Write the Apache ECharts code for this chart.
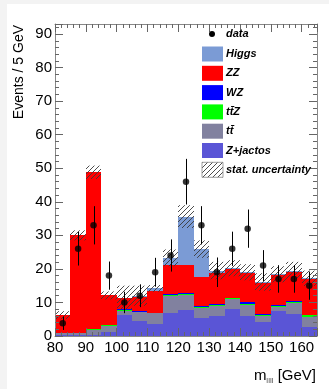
<!DOCTYPE html>
<html>
<head>
<meta charset="utf-8">
<script src="https://cdn.jsdelivr.net/npm/echarts@6/dist/echarts.min.js"></script>
<style>
    html, body { margin: 0; padding: 0; background: #f3f3f3; }
    .panel { position: absolute; left: 7px; top: 4px; width: 322px; height: 385px; background: #fff; }
    #chart { position: absolute; left: 0; top: 0; width: 329px; height: 389px; }
</style>
</head>
<body>
<div class="panel"></div>
<div id="chart"></div>
<script>
    // bins of 5 GeV, low edges
    var binLow = [80, 85, 90, 95, 100, 105, 110, 115, 120, 125, 130, 135, 140, 145, 150, 155, 160];
    var binWidth = 5;

    // backgrounds + signal, stacked from bottom to top
    var zJets = [0.3, 0.3, 0.3, 1.3, 6.3, 4.5, 3.6, 7.0, 7.8, 5.3, 6.0, 8.0, 6.0, 4.3, 7.6, 6.6, 2.8];
    var ttbar = [0.7, 0.7, 1.4, 1.7, 1.3, 2.6, 3.2, 4.9, 4.5, 3.0, 2.8, 3.0, 3.3, 1.8, 1.0, 3.2, 3.0];
    var ttZ = [0, 0, 0.3, 0.3, 0.1, 0.1, 0.1, 0.3, 0.2, 0.2, 0.3, 0.2, 0.3, 0.3, 0.4, 0.3, 0.5];
    var wz = [0, 0, 0, 0, 0.2, 0.3, 0.1, 0.2, 0.3, 0.4, 0.5, 0.2, 0.4, 0.3, 0.1, 0.3, 0.1];
    var zz = [5.2, 29, 46.8, 8.8, 3.5, 4.2, 6.4, 8.8, 8.4, 8.8, 9.3, 8.5, 8.7, 9.2, 9.1, 8.8, 10.6];
    var higgs = [0, 0, 0, 0, 0, 0.3, 0.8, 2.1, 14.4, 8.2, 0.6, 0.3, 0.3, 0.2, 0.2, 0.3, 0.2];

    // stat. uncertainty (half width) on the total
    var statUnc = [1.2, 1.5, 2.0, 1.2, 3.6, 3.0, 1.0, 2.5, 3.4, 2.6, 2.6, 2.4, 2.4, 2.6, 2.4, 2.6, 2.3];

    // observed data and errors
    var dataVal = [3.8, 26, 33, 18, 10, 12, 19, 24, 46, 33, 19, 26, 32, 21, 17, 17, 15];
    var dataErr = [2.0, 5.0, 5.7, 4.2, 3.2, 3.4, 4.3, 4.8, 6.8, 5.7, 4.4, 5.1, 5.7, 4.6, 4.1, 4.1, 4.2];

    var layers = [
        {name: 'Z+jactos', values: zJets, color: '#5a55d6'},
        {name: 'tt\u0304', values: ttbar, color: '#81819f'},
        {name: 'tt\u0304Z', values: ttZ, color: '#00ff00'},
        {name: 'WZ', values: wz, color: '#0000ff'},
        {name: 'ZZ', values: zz, color: '#ff0000'},
        {name: 'Higgs', values: higgs, color: '#7b9bd5'}
    ];

    var font = 'Liberation Sans, Arial, Helvetica, sans-serif';

    // hatch pattern for stat. uncertainty
    function hatchCanvas() {
        var c = document.createElement('canvas');
        c.width = 5;
        c.height = 5;
        var g = c.getContext('2d');
        g.strokeStyle = '#3a3a3a';
        g.lineWidth = 0.9;
        g.beginPath();
        g.moveTo(0, 5); g.lineTo(5, 0);
        g.moveTo(-1, 1); g.lineTo(1, -1);
        g.moveTo(4, 6); g.lineTo(6, 4);
        g.stroke();
        return c;
    }
    var hatch = {image: hatchCanvas(), repeat: 'repeat'};

    function binRect(params, api) {
        var a = api.coord([api.value(0), api.value(3)]);
        var b = api.coord([api.value(1), api.value(2)]);
        var x0 = Math.round(a[0]), x1 = Math.round(b[0]);
        var y0 = Math.round(a[1]), y1 = Math.round(b[1]);
        if (y1 - y0 <= 0) return null;
        return {
            type: 'rect',
            shape: {x: x0, y: y0, width: x1 - x0, height: y1 - y0},
            style: {fill: api.visual('color')}
        };
    }

    var series = [];
    var base = binLow.map(function () { return 0; });
    layers.forEach(function (layer) {
        var items = [];
        for (var i = 0; i < binLow.length; i++) {
            items.push([binLow[i], binLow[i] + binWidth, base[i], base[i] + layer.values[i]]);
            base[i] += layer.values[i];
        }
        series.push({
            type: 'custom',
            name: layer.name,
            renderItem: binRect,
            itemStyle: {color: layer.color},
            encode: {x: [0, 1], y: [2, 3]},
            data: items,
            z: 2
        });
    });

    // hatched uncertainty band
    var uncItems = [];
    for (var i = 0; i < binLow.length; i++) {
        uncItems.push([binLow[i], binLow[i] + binWidth, base[i] - statUnc[i], base[i] + statUnc[i]]);
    }
    series.push({
        type: 'custom',
        name: 'stat. uncertainty',
        renderItem: function (params, api) {
            var a = api.coord([api.value(0), api.value(3)]);
            var b = api.coord([api.value(1), api.value(2)]);
            return {
                type: 'rect',
                shape: {x: Math.round(a[0]), y: a[1], width: Math.round(b[0]) - Math.round(a[0]), height: b[1] - a[1]},
                style: {fill: hatch}
            };
        },
        encode: {x: [0, 1], y: [2, 3]},
        data: uncItems,
        z: 3
    });

    // data error bars
    var errItems = [];
    var points = [];
    for (var j = 0; j < binLow.length; j++) {
        var xc = binLow[j] + binWidth / 2;
        errItems.push([xc, dataVal[j] - dataErr[j], dataVal[j] + dataErr[j]]);
        points.push([xc, dataVal[j]]);
    }
    series.push({
        type: 'custom',
        name: 'dataErr',
        renderItem: function (params, api) {
            var lo = api.coord([api.value(0), api.value(1)]);
            var hi = api.coord([api.value(0), api.value(2)]);
            var x = Math.round(lo[0]) + 0.5;
            return {
                type: 'line',
                shape: {x1: x, y1: lo[1], x2: x, y2: hi[1]},
                style: {stroke: '#000', lineWidth: 1}
            };
        },
        encode: {x: 0, y: [1, 2]},
        data: errItems,
        z: 6
    });
    series.push({
        type: 'scatter',
        name: 'data',
        symbol: 'circle',
        symbolSize: 6.5,
        itemStyle: {color: '#000'},
        data: points,
        z: 7
    });

    // legend drawn by hand (ROOT style)
    var legendTop = 46.5, legendStep = 19.3;
    var legendFont = 'italic bold 11px ' + font;
    var graphics = [
        {type: 'circle', shape: {cx: 212, cy: 34, r: 3}, style: {fill: '#000'}, z: 10},
        {type: 'text', x: 226, y: 34, style: {text: 'data', font: legendFont, fill: '#000', verticalAlign: 'middle'}, z: 10}
    ];
    var legendRows = [layers[5], layers[4], layers[3], layers[2], layers[1], layers[0]];
    legendRows.forEach(function (row, k) {
        var y = legendTop + k * legendStep;
        graphics.push({type: 'rect', shape: {x: 202, y: y, width: 21, height: 15}, style: {fill: row.color}, z: 10});
        graphics.push({type: 'text', x: 226, y: y + 7.5, style: {text: row.name, font: legendFont, fill: '#000', verticalAlign: 'middle'}, z: 10});
    });
    var yStat = legendTop + 6 * legendStep;
    graphics.push({type: 'rect', shape: {x: 202, y: yStat, width: 21, height: 15}, style: {fill: hatch, stroke: '#888', lineWidth: 0.8}, z: 10});
    graphics.push({type: 'text', x: 226, y: yStat + 7.5, style: {text: 'stat. uncertainty', font: legendFont, fill: '#000', verticalAlign: 'middle'}, z: 10});

    // axis titles
    graphics.push({
        type: 'text', x: 19, y: 25, rotation: Math.PI / 2,
        style: {text: 'Events / 5 GeV', font: '14px ' + font, fill: '#000', align: 'right', verticalAlign: 'middle'}
    });
    graphics.push({
        type: 'text', x: 316, y: 376,
        style: {
            text: '{m|m}{s|llll}{m| [GeV]}',
            align: 'right', verticalAlign: 'middle',
            rich: {
                m: {font: '15px ' + font, fill: '#000', lineHeight: 18},
                s: {font: '8px ' + font, fill: '#555', lineHeight: 18, padding: [10, 0, 0, 0], verticalAlign: 'bottom'}
            }
        }
    });

    var tickColor = '#666';
    function axisCommon() {
        return {
            axisLine: {show: true, onZero: false, lineStyle: {color: '#888', width: 1}},
            axisTick: {show: true, inside: true, length: 8, lineStyle: {color: tickColor}},
            minorTick: {show: true, splitNumber: 5, length: 4, lineStyle: {color: tickColor}},
            splitLine: {show: false},
            z: 8
        };
    }

    var xBottom = Object.assign(axisCommon(), {
        type: 'value', position: 'bottom', min: 80, max: 165, interval: 10,
        axisLabel: {
            show: true, fontSize: 15, fontFamily: font, color: '#000', margin: 4,
            formatter: function (v) { return v % 10 === 0 ? String(v) : ''; }
        }
    });
    var xTop = Object.assign(axisCommon(), {
        type: 'value', position: 'top', min: 80, max: 165, interval: 10,
        axisLabel: {show: false}
    });
    var yLeft = Object.assign(axisCommon(), {
        type: 'value', position: 'left', min: 0, max: 93, interval: 10,
        axisLabel: {
            show: true, fontSize: 15, fontFamily: font, color: '#000', margin: 3,
            formatter: function (v) { return v % 10 === 0 ? String(v) : ''; }
        }
    });
    var yRight = Object.assign(axisCommon(), {
        type: 'value', position: 'right', min: 0, max: 93, interval: 10,
        axisLabel: {show: false}
    });

    var myChart = echarts.init(document.getElementById('chart'));
    myChart.setOption({
        animation: false,
        grid: {left: 55, right: 12, top: 24, bottom: 53},
        xAxis: [xBottom, xTop],
        yAxis: [yLeft, yRight],
        series: series,
        graphic: graphics
    });
</script>
</body>
</html>
